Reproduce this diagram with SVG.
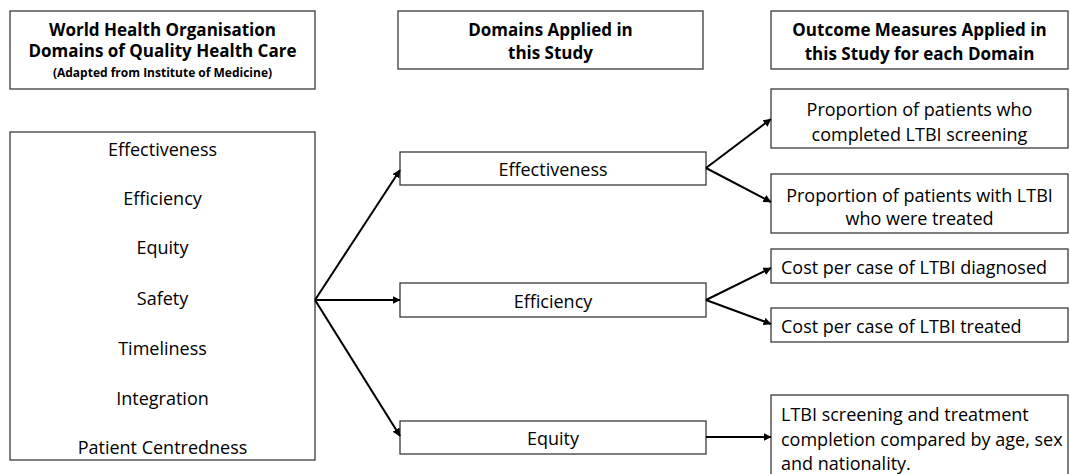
<svg xmlns="http://www.w3.org/2000/svg" width="1070" height="474" viewBox="0 0 1070 474">
<style>
.box{fill:#fff;stroke:#3a3a3a;stroke-width:1.3}
.t{font-family:"Open Sans","Liberation Sans",sans-serif;font-size:18px;fill:#000;text-anchor:middle;dominant-baseline:central}
.l{text-anchor:start}
.h{font-weight:bold;font-size:17px}
.s{font-weight:bold;font-size:12px}
.c{stroke:#000;stroke-width:2;fill:none;marker-end:url(#ah)}
</style>
<defs>
<marker id="ah" viewBox="0 0 8 8" refX="7.5" refY="4" markerWidth="4" markerHeight="4" orient="auto" markerUnits="strokeWidth">
<path d="M0,0 L8,4 L0,8 Z" fill="#000"/>
</marker>
</defs>
<rect width="1070" height="474" fill="#fff"/>
<g id="hdr1"><rect class="box" x="10" y="11" width="305" height="78"/>
<text class="t h" x="162.5" y="29">World Health Organisation</text>
<text class="t h" x="162.5" y="50">Domains of Quality Health Care</text>
<text class="t s" x="162.5" y="72">(Adapted from Institute of Medicine)</text></g>
<g id="hdr2"><rect class="box" x="398" y="11" width="305" height="58"/>
<text class="t h" x="550.5" y="29">Domains Applied in</text>
<text class="t h" x="550.5" y="52">this Study</text></g>
<g id="hdr3"><rect class="box" x="771" y="11" width="297" height="58"/>
<text class="t h" x="919.5" y="29">Outcome Measures Applied in</text>
<text class="t h" x="919.5" y="53">this Study for each Domain</text></g>
<g id="who"><rect class="box" x="10" y="132" width="305" height="328"/>
<text class="t" x="162.5" y="149">Effectiveness</text>
<text class="t" x="162.5" y="198">Efficiency</text>
<text class="t" x="162.5" y="247">Equity</text>
<text class="t" x="162.5" y="298">Safety</text>
<text class="t" x="162.5" y="348">Timeliness</text>
<text class="t" x="162.5" y="398">Integration</text>
<text class="t" x="162.5" y="447">Patient Centredness</text></g>
<g id="d-eff"><rect class="box" x="400" y="152" width="306" height="33"/>
<text class="t" x="553" y="169">Effectiveness</text></g>
<g id="d-effic"><rect class="box" x="400" y="283" width="306" height="34"/>
<text class="t" x="553" y="301">Efficiency</text></g>
<g id="d-eq"><rect class="box" x="400" y="421" width="306" height="33"/>
<text class="t" x="553" y="438">Equity</text></g>
<g id="o1"><rect class="box" x="771" y="89" width="297" height="59"/>
<text class="t" x="919.5" y="109">Proportion of patients who</text>
<text class="t" x="919.5" y="134">completed LTBI screening</text></g>
<g id="o2"><rect class="box" x="771" y="174" width="297" height="59"/>
<text class="t" x="919.5" y="195">Proportion of patients with LTBI</text>
<text class="t" x="919.5" y="218">who were treated</text></g>
<g id="o3"><rect class="box" x="771" y="249" width="297" height="34"/>
<text class="t l" x="781" y="267">Cost per case of LTBI diagnosed</text></g>
<g id="o4"><rect class="box" x="771" y="308" width="297" height="34"/>
<text class="t l" x="781" y="326">Cost per case of LTBI treated</text></g>
<g id="o5"><rect class="box" x="771" y="395" width="297" height="90"/>
<text class="t l" x="781" y="414">LTBI screening and treatment</text>
<text class="t l" x="781" y="439">completion compared by age, sex</text>
<text class="t l" x="781" y="463">and nationality.</text></g>
<g id="connectors">
<path class="c" d="M315,300 L400,170"/>
<path class="c" d="M315,300 L400,300"/>
<path class="c" d="M315,300 L400,436"/>
<path class="c" d="M706,168 L771,119"/>
<path class="c" d="M706,168 L771,202"/>
<path class="c" d="M706,300 L771,268"/>
<path class="c" d="M706,300 L771,324"/>
<path class="c" d="M706,437 L771,437"/>
</g>
</svg>
